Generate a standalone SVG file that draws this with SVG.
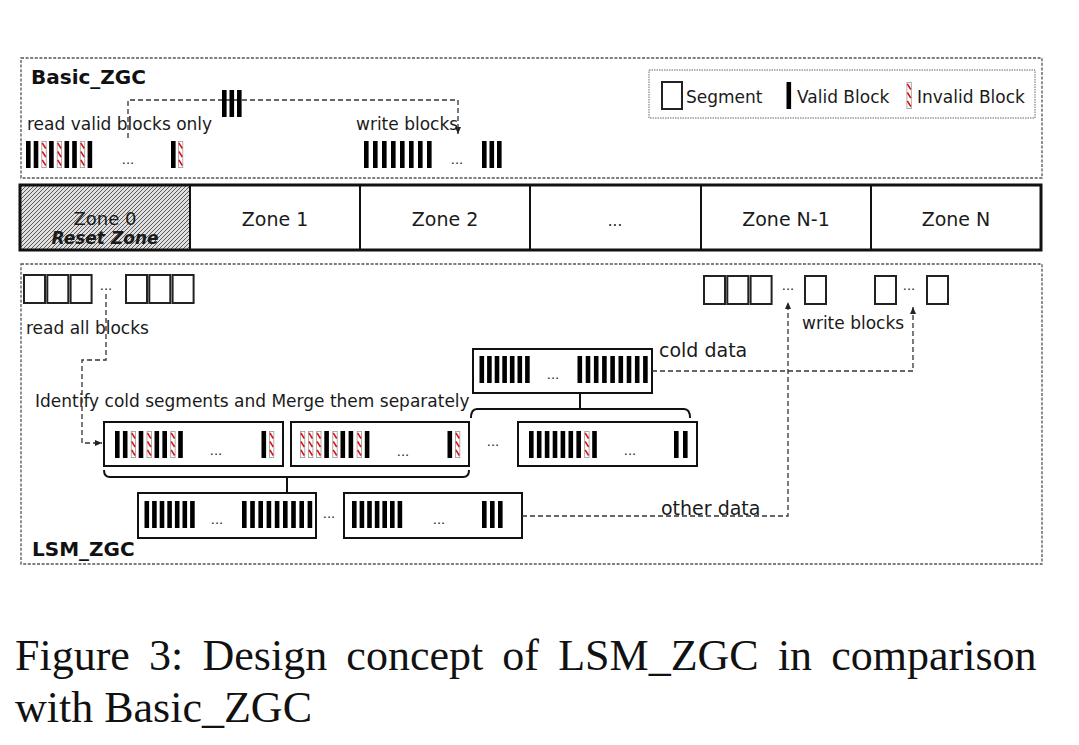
<svg xmlns="http://www.w3.org/2000/svg" width="1079" height="745" viewBox="0 0 1079 745">
<style>
  .t{font-family:"DejaVu Sans","Liberation Sans",sans-serif;fill:#1a1a1a}
  .s17{font-size:17px}
  .s19{font-size:19px}
  .b{font-weight:bold;font-size:20px;fill:#111}
  .dots{font-family:"DejaVu Sans",sans-serif;font-size:13px;fill:#222}
  .panel{fill:none;stroke:#555;stroke-width:1.3;stroke-dasharray:3 1.6}
  .legend{fill:none;stroke:#666;stroke-width:1;stroke-dasharray:1.5 1}
  .seg{fill:#fff;stroke:#222;stroke-width:2}
  .bigseg{fill:#fff;stroke:#111;stroke-width:2}
  .zone{fill:#fff;stroke:#111;stroke-width:2}
  .conn{fill:none;stroke:#333;stroke-width:1.3;stroke-dasharray:5 3}
  .brace{fill:none;stroke:#111;stroke-width:2}
  .cap{font-family:"Liberation Serif","Times New Roman",serif;font-size:44px;fill:#111;word-spacing:8.2px}
</style>
<defs>
  <g id="vb"><rect width="4.6" height="27" fill="#000"/></g>
  <g id="ib"><rect x="0.4" y="0.4" width="4.4" height="26.2" fill="#fff" stroke="#999" stroke-width="0.8"/><path d="M0.9,2 L4.3,7.5 M0.9,10.5 L4.3,16 M0.9,19 L4.3,24.5" stroke="#d11" stroke-width="1.5" fill="none"/></g>
  <pattern id="hatch" patternUnits="userSpaceOnUse" width="4" height="4">
    <rect width="4" height="4" fill="#e0e0e0"/>
    <path d="M-1,1 L1,-1 M0,4 L4,0 M3,5 L5,3" stroke="#4a4a4a" stroke-width="0.9"/>
  </pattern>
  <marker id="arr" markerUnits="userSpaceOnUse" markerWidth="8" markerHeight="8" refX="7" refY="4" orient="auto">
    <path d="M0,1 L7,4 L0,7 Z" fill="#222"/>
  </marker>
</defs>
<rect width="1079" height="745" fill="#fff"/>

<g id="basic-panel">
  <rect class="panel" x="21" y="58" width="1021" height="120"/>
  <text class="t b" x="31" y="84">Basic_ZGC</text>
  <text class="t s17" x="27" y="130">read valid blocks only</text>
  <text class="t s17" x="356" y="130">write blocks</text>
  <g id="basic-read-blocks">
    <use href="#vb" x="26" y="141"/><use href="#vb" x="33.7" y="141"/><use href="#ib" x="41.4" y="141"/>
    <use href="#vb" x="49.1" y="141"/><use href="#ib" x="56.8" y="141"/><use href="#vb" x="64.5" y="141"/>
    <use href="#vb" x="72.2" y="141"/><use href="#ib" x="79.9" y="141"/><use href="#vb" x="87.6" y="141"/>
    <text class="dots" x="128" y="164" text-anchor="middle">...</text>
    <use href="#vb" x="171" y="141"/><use href="#ib" x="178" y="141"/>
  </g>
  <g id="basic-write-blocks">
    <use href="#vb" x="364" y="141"/><use href="#vb" x="373" y="141"/><use href="#vb" x="382" y="141"/><use href="#vb" x="391" y="141"/>
    <use href="#vb" x="400" y="141"/><use href="#vb" x="409" y="141"/><use href="#vb" x="418" y="141"/><use href="#vb" x="427" y="141"/>
    <text class="dots" x="457" y="164" text-anchor="middle">...</text>
    <use href="#vb" x="482" y="141"/><use href="#vb" x="489.5" y="141"/><use href="#vb" x="497" y="141"/>
  </g>
</g>

<g id="legend">
  <rect class="legend" x="649" y="70" width="386" height="48"/>
  <rect x="662" y="82" width="20" height="27" fill="#fff" stroke="#222" stroke-width="2"/>
  <text class="t s17" x="686" y="103">Segment</text>
  <rect x="786.5" y="82" width="4.6" height="27" fill="#000"/>
  <text class="t s17" x="797" y="103">Valid Block</text>
  <use href="#ib" x="906.5" y="82"/>
  <text class="t s17" x="917" y="103">Invalid Block</text>
</g>

<g id="zones">
  <g id="zone0">
    <rect x="20" y="185" width="170" height="65" fill="url(#hatch)" stroke="#111" stroke-width="2"/>
    <text class="t" x="105" y="225" text-anchor="middle" font-size="18">Zone 0</text>
    <text class="t" x="105" y="244" text-anchor="middle" font-size="17" font-weight="bold" font-style="italic">Reset Zone</text>
  </g>
  <g id="zone1"><rect class="zone" x="190" y="185" width="170" height="65"/><text class="t s19" x="275" y="226" text-anchor="middle">Zone 1</text></g>
  <g id="zone2"><rect class="zone" x="360" y="185" width="170" height="65"/><text class="t s19" x="445" y="226" text-anchor="middle">Zone 2</text></g>
  <g id="zone-dots"><rect class="zone" x="530" y="185" width="171" height="65"/><text class="t" x="615" y="226" text-anchor="middle" font-size="15" fill="#444">...</text></g>
  <g id="zoneN1"><rect class="zone" x="701" y="185" width="170" height="65"/><text class="t s19" x="786" y="226" text-anchor="middle">Zone N-1</text></g>
  <g id="zoneN"><rect class="zone" x="871" y="185" width="170" height="65"/><text class="t s19" x="956" y="226" text-anchor="middle">Zone N</text></g>
  <rect x="20" y="185" width="1021" height="65" fill="none" stroke="#111" stroke-width="3"/>
</g>

<g id="lsm-panel">
  <rect class="panel" x="21" y="264" width="1021" height="300"/>
  <text class="t b" x="32" y="556">LSM_ZGC</text>
  <text class="t s17" x="26" y="334">read all blocks</text>
  <text class="t s17" x="802" y="329">write blocks</text>
  <text class="t s19" x="659" y="357">cold data</text>
  <text class="t s17" x="35" y="407">Identify cold segments and Merge them separately</text>
  <text class="t s19" x="661" y="515">other data</text>
</g>

<g id="lsm-read-segments">
  <rect class="seg" x="24" y="275" width="21" height="28"/><rect class="seg" x="47.3" y="275" width="21" height="28"/><rect class="seg" x="70.6" y="275" width="21" height="28"/>
  <text class="dots" x="106" y="290" text-anchor="middle">...</text>
  <rect class="seg" x="126" y="275" width="21" height="28"/><rect class="seg" x="149.3" y="275" width="21" height="28"/><rect class="seg" x="172.6" y="275" width="21" height="28"/>
</g>

<g id="lsm-write-segments">
  <rect class="seg" x="704" y="276" width="21" height="28"/><rect class="seg" x="727.3" y="276" width="21" height="28"/><rect class="seg" x="750.6" y="276" width="21" height="28"/>
  <text class="dots" x="788" y="290" text-anchor="middle">...</text>
  <rect class="seg" x="805" y="276" width="21" height="28"/>
  <rect class="seg" x="875" y="276" width="21" height="28"/>
  <text class="dots" x="909" y="290" text-anchor="middle">...</text>
  <rect class="seg" x="927" y="276" width="21" height="28"/>
</g>

<g id="cold-segment">
  <rect class="bigseg" x="473" y="349" width="179" height="44"/>
  <use href="#vb" x="479.5" y="356"/><use href="#vb" x="487.1" y="356"/><use href="#vb" x="494.7" y="356"/><use href="#vb" x="502.3" y="356"/>
  <use href="#vb" x="509.9" y="356"/><use href="#vb" x="517.5" y="356"/><use href="#vb" x="525.1" y="356"/>
  <text class="dots" x="553" y="379" text-anchor="middle">...</text>
  <use href="#vb" x="577.5" y="356"/><use href="#vb" x="585.7" y="356"/><use href="#vb" x="593.9" y="356"/><use href="#vb" x="602.1" y="356"/>
  <use href="#vb" x="610.3" y="356"/><use href="#vb" x="618.5" y="356"/><use href="#vb" x="626.7" y="356"/><use href="#vb" x="634.9" y="356"/><use href="#vb" x="643.1" y="356"/>
</g>

<g id="segment-a">
  <rect class="bigseg" x="104" y="422" width="179" height="44"/>
  <use href="#vb" x="115" y="431"/><use href="#vb" x="122.9" y="431"/><use href="#ib" x="130.8" y="431"/>
  <use href="#vb" x="138.7" y="431"/><use href="#ib" x="146.6" y="431"/><use href="#vb" x="154.5" y="431"/>
  <use href="#vb" x="162.4" y="431"/><use href="#ib" x="170.3" y="431"/><use href="#vb" x="178.2" y="431"/>
  <text class="dots" x="216" y="455" text-anchor="middle">...</text>
  <use href="#vb" x="261.5" y="431"/><use href="#ib" x="269" y="431"/>
</g>

<g id="segment-b">
  <rect class="bigseg" x="291" y="422" width="178" height="44"/>
  <use href="#ib" x="300" y="431"/><use href="#ib" x="308.1" y="431"/><use href="#ib" x="316.2" y="431"/>
  <use href="#vb" x="324.3" y="431"/><use href="#ib" x="332.4" y="431"/><use href="#vb" x="340.5" y="431"/>
  <use href="#vb" x="348.6" y="431"/><use href="#ib" x="356.7" y="431"/><use href="#vb" x="364.8" y="431"/>
  <text class="dots" x="403" y="456" text-anchor="middle">...</text>
  <use href="#vb" x="447.5" y="431"/><use href="#ib" x="455" y="431"/>
</g>

<text class="dots" x="493" y="446" text-anchor="middle">...</text>

<g id="segment-c">
  <rect class="bigseg" x="518" y="422" width="179" height="44"/>
  <use href="#vb" x="529" y="431"/><use href="#vb" x="536.9" y="431"/><use href="#vb" x="544.8" y="431"/>
  <use href="#vb" x="552.7" y="431"/><use href="#vb" x="560.6" y="431"/><use href="#vb" x="568.5" y="431"/>
  <use href="#vb" x="576.4" y="431"/><use href="#ib" x="584.3" y="431"/><use href="#vb" x="592.2" y="431"/>
  <text class="dots" x="630" y="455" text-anchor="middle">...</text>
  <use href="#vb" x="674" y="431"/><use href="#vb" x="683" y="431"/>
</g>

<g id="segment-d">
  <rect class="bigseg" x="138" y="493" width="178" height="45"/>
  <use href="#vb" x="144.5" y="501"/><use href="#vb" x="152.1" y="501"/><use href="#vb" x="159.7" y="501"/><use href="#vb" x="167.3" y="501"/>
  <use href="#vb" x="174.9" y="501"/><use href="#vb" x="182.5" y="501"/><use href="#vb" x="190.1" y="501"/>
  <text class="dots" x="217" y="524" text-anchor="middle">...</text>
  <use href="#vb" x="242" y="501"/><use href="#vb" x="250.2" y="501"/><use href="#vb" x="258.4" y="501"/><use href="#vb" x="266.6" y="501"/>
  <use href="#vb" x="274.8" y="501"/><use href="#vb" x="283" y="501"/><use href="#vb" x="291.2" y="501"/><use href="#vb" x="299.4" y="501"/><use href="#vb" x="307.6" y="501"/>
</g>

<text class="dots" x="329" y="518" text-anchor="middle">...</text>

<g id="segment-e">
  <rect class="bigseg" x="344" y="493" width="178" height="45"/>
  <use href="#vb" x="352" y="501"/><use href="#vb" x="359.6" y="501"/><use href="#vb" x="367.2" y="501"/><use href="#vb" x="374.8" y="501"/>
  <use href="#vb" x="382.4" y="501"/><use href="#vb" x="390" y="501"/><use href="#vb" x="397.6" y="501"/>
  <text class="dots" x="439" y="524" text-anchor="middle">...</text>
  <use href="#vb" x="482" y="501"/><use href="#vb" x="490" y="501"/><use href="#vb" x="498" y="501"/>
</g>

<g id="connectors">
  <path class="conn" d="M128,138 V100 H458 V134" marker-end="url(#arr)"/>
  <path class="conn" d="M106,294 V360 H82 V443 H102" marker-end="url(#arr)"/>
  <path class="conn" d="M652,371 H913 V307" marker-end="url(#arr)"/>
  <path class="conn" d="M522,516 H788 V302" marker-end="url(#arr)"/>
  <path class="brace" d="M104,470 Q104,477 110,477 H463 Q469,477 469,470 M287,477 V492"/>
  <path class="brace" d="M471,418 Q471,409 477,409 H684 Q690,409 690,418 M580,393 V409"/>
</g>

<g id="moved-blocks">
  <use href="#vb" x="222" y="90"/><use href="#vb" x="229.5" y="90"/><use href="#vb" x="237" y="90"/>
</g>

<g id="caption">
  <text class="cap" x="15" y="670">Figure 3: Design concept of LSM_ZGC in comparison</text>
  <text class="cap" x="15" y="722" style="word-spacing:0">with Basic_ZGC</text>
</g>
</svg>
